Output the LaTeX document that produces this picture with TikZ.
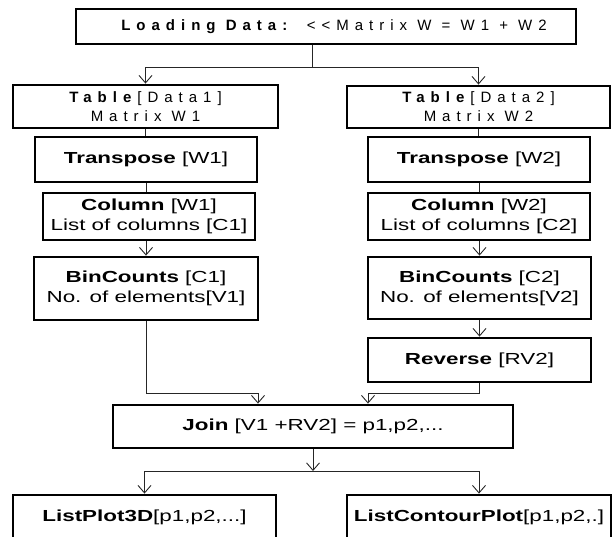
\documentclass[tikz,border=0pt]{standalone}
\usepackage{fontspec}
\setmainfont{Liberation Sans}[FakeStretch=1.4]
\newfontfamily\spacedFont{Liberation Sans}[LetterSpace=40]
\usetikzlibrary{arrows.meta}

\begin{document}
\begin{tikzpicture}[x=1pt, y=-1pt,
		box/.style={draw, line width=2.8pt, inner sep=0pt, align=center, font=\fontsize{16}{20}\selectfont},
		spaced/.style={font={\spacedFont\fontsize{15}{19}\selectfont}},
		link/.style={line width=0.9pt, draw=black!85},
		tip/.style={-{Straight Barb[length=7.5pt, width=13pt]}}]
			\useasboundingbox (0,0) rectangle (612,537);

			\newcommand{\drawPlainLink}[2]
			{
				\draw [link] (#1.south) -- (#1.south |- #2.north)
			}

			\node [box, spaced, minimum width=500pt, minimum height=35pt] (load) at (326,26.5) {\hspace*{16pt}\textbf{Loading Data:} <<Matrix W = W1 + W2};

			\begin{scope}[every node/.style={box, minimum height=43pt}]
				\node [spaced, minimum width=265pt] (tableA) at (145.5,106.5) {\textbf{Table}[Data1]\\Matrix W1};
				\node [spaced, minimum width=263pt, minimum height=42pt] (tableB) at (478.5,107) {\textbf{Table}[Data2]\\Matrix W2};
				\node [minimum width=222pt, minimum height=45pt] (transA) at (146,159.5) {\textbf{Transpose} [W1]};
				\node [minimum width=222pt, minimum height=45pt] (transB) at (479,159.5) {\textbf{Transpose} [W2]};
				\node [minimum width=212pt, minimum height=47pt] (colA) at (149,216.5) {\textbf{Column} [W1]\\List of columns [C1]};
				\node [minimum width=222pt, minimum height=47pt] (colB) at (479,216.5) {\textbf{Column} [W2]\\List of columns [C2]};
				\node [minimum width=224pt, minimum height=63pt] (binA) at (146,288.5) {\textbf{BinCounts} [C1]\\No. of elements[V1]};
				\node [minimum width=223pt, minimum height=62pt] (binB) at (479.5,288) {\textbf{BinCounts} [C2]\\No. of elements[V2]};
				\node [minimum width=223pt, minimum height=44pt] (rev) at (479.5,360) {\textbf{Reverse} [RV2]};
				\node [minimum width=400pt] (join) at (313,426.5) {\textbf{Join} [V1 +RV2] = p1,p2,...};
				\node [minimum width=263pt, minimum height=44pt] (plotA) at (144.5,517) {\textbf{ListPlot3D}[p1,p2,...]};
				\node [minimum width=264pt, minimum height=44pt] (plotB) at (479,517) {\textbf{ListContourPlot}[p1,p2,.]};
			\end{scope}

			\coordinate (splitTop) at (312,67);
			\coordinate (mergeA) at (258,393);
			\coordinate (mergeB) at (368,393);
			\coordinate (splitBottom) at (313,471);

			\draw [link] (load.south -| splitTop) -- (splitTop);
			\drawPlainLink{tableA}{transA};
			\drawPlainLink{tableB}{transB};
			\drawPlainLink{transA}{colA};
			\drawPlainLink{transB}{colB};

			\begin{scope}[tip]
				\draw [link] (splitTop) -| (tableA.north);
				\draw [link] (splitTop) -| (tableB.north);
				\draw [link] (colA.south -| binA.north) -- (binA.north);
				\draw [link] (colB.south -| binB.north) -- (binB.north);
				\draw [link] (binB.south) -- (rev.north);
				\draw [link] (binA.south) |- (mergeA) -- (mergeA |- join.north);
				\draw [link] (rev.south) |- (mergeB) -- (mergeB |- join.north);
				\draw [link] (join.south) -- (splitBottom);
				\draw [link] (splitBottom) -| (plotA.north);
				\draw [link] (splitBottom) -| (plotB.north);
			\end{scope}
		\end{tikzpicture}
\end{document}
